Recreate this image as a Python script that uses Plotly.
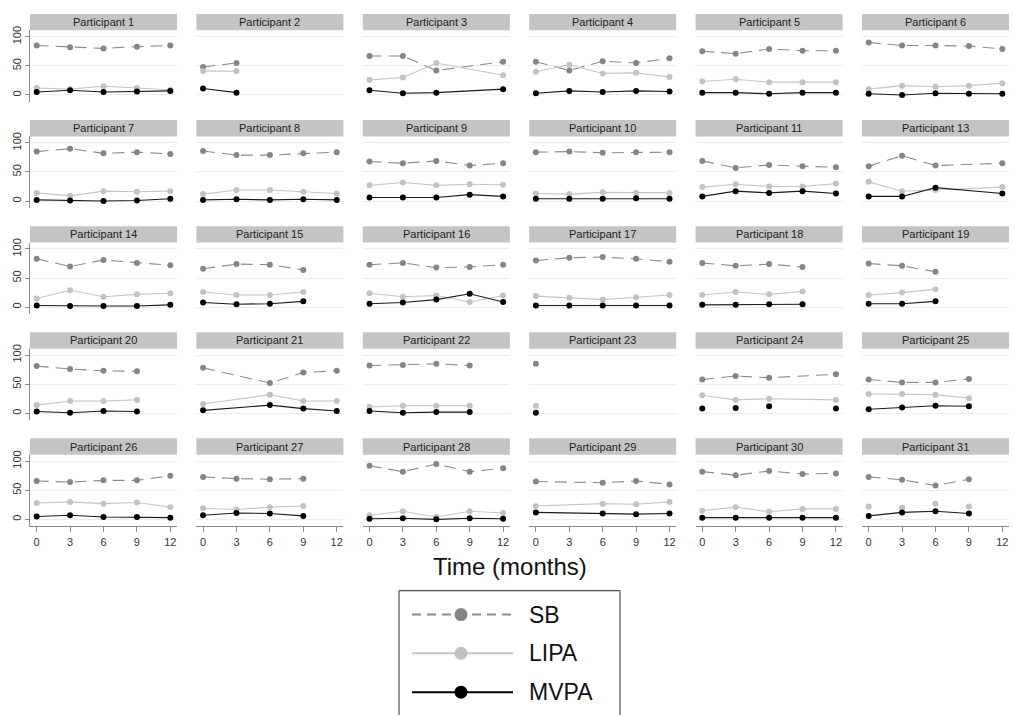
import plotly.graph_objects as go
from plotly.subplots import make_subplots

# ---- data: % of wear time by behaviour, per participant and visit ----
months = [0, 3, 6, 9, 12]

participants = [1, 2, 3, 4, 5, 6, 7, 8, 9, 10, 11, 13, 14, 15, 16,
                17, 18, 19, 20, 21, 22, 23, 24, 25, 26, 27, 28, 29, 30, 31]

sb = [
    [85, 82, 80, 83, 85], [48, 55, None, None, None], [67, 67, 42, None, 57],
    [57, 42, 58, 55, 63], [75, 71, 79, 76, 76], [90, 85, 85, 84, 79],
    [85, 90, 82, 84, 81], [86, 79, 79, 82, 84], [68, 65, 69, 61, 65],
    [84, 85, 83, 84, 84], [69, 57, 62, 60, 58], [60, 78, 61, None, 65],
    [83, 70, 81, 76, 72], [66, 74, 73, 64, None], [73, 76, 68, 69, 73],
    [80, 85, 86, 83, 78], [76, 71, 74, 69, None], [75, 71, 61, None, None],
    [81, 76, 73, 72, None], [78, None, 52, 70, 73], [82, 83, 85, 82, None],
    [85, None, None, None, None], [58, 64, 61, None, 67], [58, 53, 53, 59, None],
    [66, 64, 67, 67, 75], [73, 70, 69, 70, None], [92, 82, 95, 82, 88],
    [65, None, 63, 66, 60], [82, 76, 83, 78, 79], [73, 68, 58, 69, None],
]

lipa = [
    [12, 10, 15, 12, 9], [41, 41, None, None, None], [26, 30, 55, None, 34],
    [40, 52, 37, 38, 31], [23, 27, 22, 22, 22], [10, 16, 14, 16, 20],
    [14, 9, 17, 16, 17], [12, 19, 19, 16, 13], [27, 32, 27, 29, 28],
    [13, 12, 15, 14, 14], [24, 29, 25, 25, 30], [33, 17, 19, None, 24],
    [15, 29, 18, 22, 24], [26, 21, 21, 26, None], [24, 18, 20, 9, 20],
    [19, 16, 13, 17, 21], [21, 26, 22, 27, None], [21, 25, 31, None, None],
    [14, 21, 21, 23, None], [16, None, 32, 21, 21], [11, 13, 13, 13, None],
    [13, None, None, None, None], [31, 23, 25, None, 23], [33, 33, 32, 26, None],
    [28, 30, 27, 29, 21], [19, 17, 21, 23, None], [7, 14, 4, 14, 11],
    [23, None, 27, 26, 30], [15, 21, 13, 18, 18], [22, 20, 27, 22, None],
]

mvpa = [
    [5, 8, 5, 6, 7], [11, 4, None, None, None], [8, 3, 4, None, 10],
    [3, 7, 5, 7, 6], [4, 4, 2, 4, 4], [2, 0, 3, 2, 2],
    [2, 1, 0, 1, 4], [2, 3, 2, 3, 2], [6, 6, 6, 11, 8],
    [4, 4, 4, 5, 4], [8, 17, 14, 17, 13], [8, 8, 23, None, 13],
    [3, 2, 2, 2, 4], [8, 5, 6, 10, None], [6, 8, 13, 23, 9],
    [3, 3, 3, 3, 3], [4, 4, 5, 5, None], [6, 6, 10, None, None],
    [3, 1, 4, 3, None], [5, None, 14, 8, 4], [4, 1, 2, 2, None],
    [1, None, None, None, None], [8, 9, 12, None, 8], [7, 10, 13, 12, None],
    [5, 7, 4, 4, 3], [7, 11, 10, 6, None], [1, 2, 0, 2, 1],
    [12, None, 10, 9, 10], [3, 3, 3, 3, 3], [6, 12, 14, 10, None],
]

# series drawn as points only for these participants
points_only = {("MVPA", 24), ("LIPA", 31)}

series_names = ["SB", "LIPA", "MVPA"]
series_values = [sb, lipa, mvpa]

# ---- styling / layout ----
W, H = 1014, 715
FONT = "Liberation Sans, Arial, sans-serif"
styles = {
    "SB": dict(line="#8c8c8c", marker="#858585", dash="12px,7px"),
    "LIPA": dict(line="#c6c6c6", marker="#c2c2c2", dash="solid"),
    "MVPA": dict(line="#1a1a1a", marker="#000000", dash="solid"),
}

NROWS, NCOLS = 5, 6
col_left = [30 + 166.4 * c for c in range(NCOLS)]
panel_w = 147
row_top = [10 + 106.7 * r for r in range(NROWS)]
strip_h = 16.5
plot_h = 72


def px_x(v):
    return v / W


def px_y(v):
    return 1 - v / H


fig = make_subplots(rows=NROWS, cols=NCOLS)

shapes = []
annotations = []

for k, pid in enumerate(participants):
    r, c = divmod(k, NCOLS)
    for name, values in zip(series_names, series_values):
        st = styles[name]
        mode = "markers" if (name, pid) in points_only else "lines+markers"
        fig.add_trace(
            go.Scatter(
                x=months, y=values[k], mode=mode, connectgaps=True,
                line=dict(color=st["line"], width=1.1, dash=st["dash"]),
                marker=dict(color=st["marker"], size=6),
                name=name, showlegend=False,
            ),
            row=r + 1, col=c + 1,
        )

    x0 = col_left[c]
    x1 = x0 + panel_w
    top = row_top[r]
    # strip header
    shapes.append(dict(type="rect", xref="paper", yref="paper",
                       x0=px_x(x0), x1=px_x(x1), y0=px_y(top + strip_h), y1=px_y(top),
                       fillcolor="#c4c4c4", line=dict(width=0), layer="below"))
    annotations.append(dict(text=f"Participant {pid}", xref="paper", yref="paper",
                            x=px_x((x0 + x1) / 2), y=px_y(top + strip_h / 2),
                            showarrow=False, xanchor="center", yanchor="middle",
                            font=dict(family=FONT, size=11, color="#222")))

# axes for every cell of the grid
for r in range(NROWS):
    for c in range(NCOLS):
        idx = r * NCOLS + c + 1
        xname = "xaxis" if idx == 1 else f"xaxis{idx}"
        yname = "yaxis" if idx == 1 else f"yaxis{idx}"
        x0 = col_left[c]
        top = row_top[r] + strip_h
        xax = dict(domain=[px_x(x0), px_x(x0 + panel_w)], range=[-0.6, 12.6],
                   tickvals=months, showgrid=False, zeroline=False)
        if r == NROWS - 1:
            xax.update(showline=True, linecolor="#8a8a8a", linewidth=1,
                       ticks="outside", ticklen=5, tickcolor="#8a8a8a",
                       showticklabels=True,
                       tickfont=dict(family=FONT, size=11, color="#333"))
        else:
            xax.update(showline=False, ticks="", showticklabels=False)
        yax = dict(domain=[px_y(top + plot_h), px_y(top)], range=[-12, 111],
                   tickvals=[0, 50, 100], showgrid=True, gridcolor="#e6efef",
                   gridwidth=1, zeroline=False)
        if c == 0:
            yax.update(showline=True, linecolor="#8a8a8a", linewidth=1,
                       ticks="outside", ticklen=4, tickcolor="#8a8a8a",
                       showticklabels=True, tickangle=-90,
                       tickfont=dict(family=FONT, size=11, color="#333"))
        else:
            yax.update(showline=False, ticks="", showticklabels=False)
        fig.layout[xname].update(xax)
        fig.layout[yname].update(yax)

# x-axis title
annotations.append(dict(text="Time (months)", xref="paper", yref="paper",
                        x=px_x(510), y=px_y(566), showarrow=False,
                        xanchor="center", yanchor="middle",
                        font=dict(family=FONT, size=24, color="#111")))

# ---- legend box drawn below the grid ----
box_l, box_r, box_t, box_b = 399, 620, 590, 716
for (ax, ay, bx, by) in [(box_l, box_t, box_r, box_t),
                         (box_l, box_t, box_l, box_b),
                         (box_r, box_t, box_r, box_b)]:
    shapes.append(dict(type="line", xref="paper", yref="paper",
                       x0=px_x(ax), y0=px_y(ay), x1=px_x(bx), y1=px_y(by),
                       line=dict(color="#505050", width=1.2)))

legend_rows = [614, 653, 692]
legend_dash = {"SB": "9px,6px", "LIPA": "solid", "MVPA": "solid"}
for name, yrow in zip(series_names, legend_rows):
    st = styles[name]
    shapes.append(dict(type="line", xref="paper", yref="paper",
                       x0=px_x(412), x1=px_x(513), y0=px_y(yrow), y1=px_y(yrow),
                       line=dict(color=st["line"] if name != "MVPA" else "#000",
                                 width=2, dash=legend_dash[name])))
    shapes.append(dict(type="circle", xref="paper", yref="paper",
                       xsizemode="pixel", ysizemode="pixel",
                       xanchor=px_x(461), yanchor=px_y(yrow),
                       x0=-6.5, x1=6.5, y0=-6.5, y1=6.5,
                       fillcolor=st["marker"], line=dict(width=0)))
    annotations.append(dict(text=name, xref="paper", yref="paper",
                            x=px_x(527), y=px_y(yrow), showarrow=False,
                            xanchor="left", yanchor="middle",
                            font=dict(family=FONT, size=23, color="#111")))

fig.update_layout(
    width=W, height=H,
    margin=dict(l=0, r=0, t=0, b=0),
    paper_bgcolor="white", plot_bgcolor="white",
    showlegend=False,
    shapes=shapes, annotations=annotations,
    font=dict(family=FONT),
)

fig.write_html("out.html")
